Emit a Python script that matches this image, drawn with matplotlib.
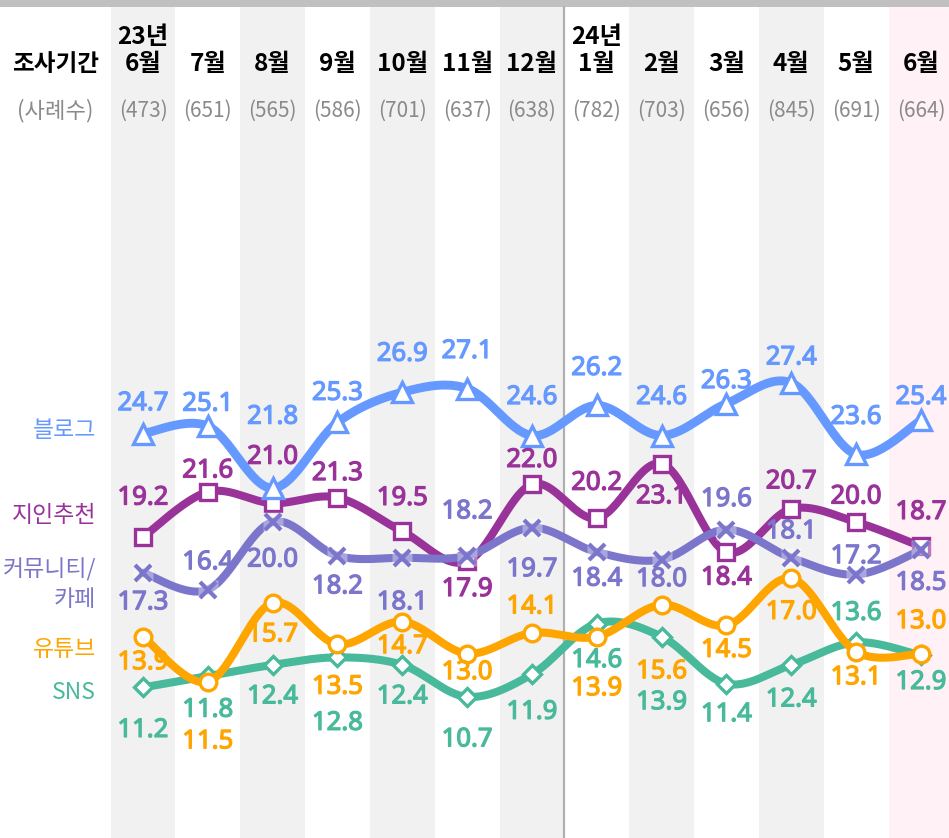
import numpy as np
import matplotlib
matplotlib.use('Agg')
import matplotlib.pyplot as plt
import matplotlib.patheffects as pe
from matplotlib.patches import Rectangle

plt.rcParams['font.family'] = ['Noto Sans CJK KR', 'DejaVu Sans']

# survey months (23.06 ~ 24.06)
months = ['6월', '7월', '8월', '9월', '10월', '11월', '12월', '1월', '2월', '3월', '4월', '5월', '6월']
years = ['23년', '', '', '', '', '', '', '24년', '', '', '', '', '']
samples = [473, 651, 565, 586, 701, 637, 638, 782, 703, 656, 845, 691, 664]

blog = [24.7, 25.1, 21.8, 25.3, 26.9, 27.1, 24.6, 26.2, 24.6, 26.3, 27.4, 23.6, 25.4]
friend = [19.2, 21.6, 21.0, 21.3, 19.5, 17.9, 22.0, 20.2, 23.1, 18.4, 20.7, 20.0, 18.7]
community = [17.3, 16.4, 20.0, 18.2, 18.1, 18.2, 19.7, 18.4, 18.0, 19.6, 18.1, 17.2, 18.5]
youtube = [13.9, 11.5, 15.7, 13.5, 14.7, 13.0, 14.1, 13.9, 15.6, 14.5, 17.0, 13.1, 13.0]
sns = [11.2, 11.8, 12.4, 12.8, 12.4, 10.7, 11.9, 14.6, 13.9, 11.4, 12.4, 13.6, 12.9]

# value label offsets in pixels (positive = below the marker)
off_blog = [-30, -22, -71, -29, -38, -37, -38, -37, -38, -22, -25, -37, -23]
off_friend = [-39, -21, -46, -24, -33, 28, -24, -35, 33, 26, -27, -25, -34]
off_comm = [30, -27, 38, 31, 45, -44, 42, 27, 20, -30, -26, -18, 33]
off_yt = [26, 60, 32, 43, 25, 19, -26, 52, 67, 25, 34, 26, -32]
off_sns = [43, 34, 32, 66, 32, 43, 38, 37, 66, 31, 35, -29, 27]

W, H = 949, 838
X0, DX = 143, 64.83      # pixel center of first column, column width
Y0, DY = 898, 18.8       # pixel y of value 0, pixels per unit


def ay(p):
    # pixel row -> axes fraction
    return 1 - p / H


def ax_(p):
    return p / W


def smooth(xs, ys, n=30):
    p = np.column_stack([xs, ys]).astype(float)
    P = np.vstack([p[0], p, p[-1]])
    out = []
    t = np.linspace(0, 1, n)[:, None]
    for i in range(len(p) - 1):
        p0, p1, p2, p3 = P[i], P[i + 1], P[i + 2], P[i + 3]
        seg = 0.5 * (2 * p1 + (-p0 + p2) * t + (2 * p0 - 5 * p1 + 4 * p2 - p3) * t ** 2
                     + (-p0 + 3 * p1 - 3 * p2 + p3) * t ** 3)
        out.append(seg if i == 0 else seg[1:])
    out = np.vstack(out)
    return out[:, 0], out[:, 1]


fig = plt.figure(figsize=(W / 100, H / 100), dpi=100)
ax = fig.add_axes([0, 0, 1, 1])
ax.set_xlim(-X0 / DX, (W - X0) / DX)
ax.set_ylim((Y0 - H) / DY, Y0 / DY)
ax.axis('off')

n = len(months)
x = np.arange(n)
top = ay(7)

# column shading
for i in range(n):
    if i == n - 1:
        c = '#fff1f6'
    elif i % 2 == 0:
        c = '#f1f1f1'
    else:
        continue
    ax.axvspan(i - 0.5, i + 0.5, ymin=0, ymax=top, color=c, lw=0, zorder=0)

ax.add_patch(Rectangle((0, top), 1, 1 - top, transform=ax.transAxes, color='#c0c0c0', lw=0, zorder=1))
ax.axvline(6.5, ymin=0, ymax=top, color='#b0b0b0', lw=1.6, zorder=1)

# header
xt = ax.get_xaxis_transform()
ax.text(ax_(56), ay(64), '조사기간', transform=ax.transAxes, ha='center', va='center',
        fontsize=17, fontweight='bold', color='black')
ax.text(ax_(55), ay(111), '(사례수)', transform=ax.transAxes, ha='center', va='center',
        fontsize=16, fontweight='light', color='#8a8a8a')
for i in range(n):
    if years[i]:
        ax.text(i, ay(37), years[i], transform=xt, ha='center', va='center',
                fontsize=17.5, fontweight='bold', color='black')
    ax.text(i, ay(64), months[i], transform=xt, ha='center', va='center',
            fontsize=17.5, fontweight='bold', color='black')
    ax.text(i, ay(111), f'({samples[i]})', transform=xt, ha='center', va='center',
            fontsize=15, fontweight='light', color='#8a8a8a')

series = [
    # name lines, values, offsets, color, marker, ms, zorder
    (['SNS'], [692], sns, off_sns, '#48b99a', 'D', 9.5, 2),
    (['유튜브'], [649], youtube, off_yt, '#ffa500', 'o', 12, 3),
    (['지인추천'], [515], friend, off_friend, '#993399', 's', 12, 4),
    (['커뮤니티/', '카페'], [570, 599], community, off_comm, '#7b76cc', 'x', 12, 5),
    (['블로그'], [430], blog, off_blog, '#6699ff', '^', 15, 6),
]

for names, name_y, vals, offs, color, mk, ms, z in series:
    sx, sy = smooth(x, vals)
    lw = 6.4 if mk == '^' else 5.8
    ax.plot(sx, sy, color=color, lw=lw, solid_capstyle='round', zorder=z)
    if mk == 'x':
        ax.plot(x, vals, ls='none', marker='s', ms=14, mfc=(1, 1, 1, 0.35), mec='none', zorder=z + 0.1)
        ax.plot(x, vals, ls='none', marker='x', ms=ms, mew=3, color=color, zorder=z + 0.2)
    else:
        ax.plot(x, vals, ls='none', marker=mk, ms=ms, mfc='white', mec=color, mew=2.4, zorder=z + 0.2)
    for i, v in enumerate(vals):
        ax.annotate(f'{v:.1f}', (i, v), xytext=(0, -offs[i]), textcoords='offset pixels',
                    ha='center', va='center', fontsize=18.5, color=color,
                    family=['Noto Sans', 'DejaVu Sans'], zorder=10,
                    path_effects=[pe.withStroke(linewidth=0.9, foreground=color)])
    for nm, py in zip(names, name_y):
        ax.text(ax_(96), ay(py), nm, transform=ax.transAxes, ha='right', va='center',
                fontsize=16.5, color=color)

fig.savefig('out.png', dpi=100)
